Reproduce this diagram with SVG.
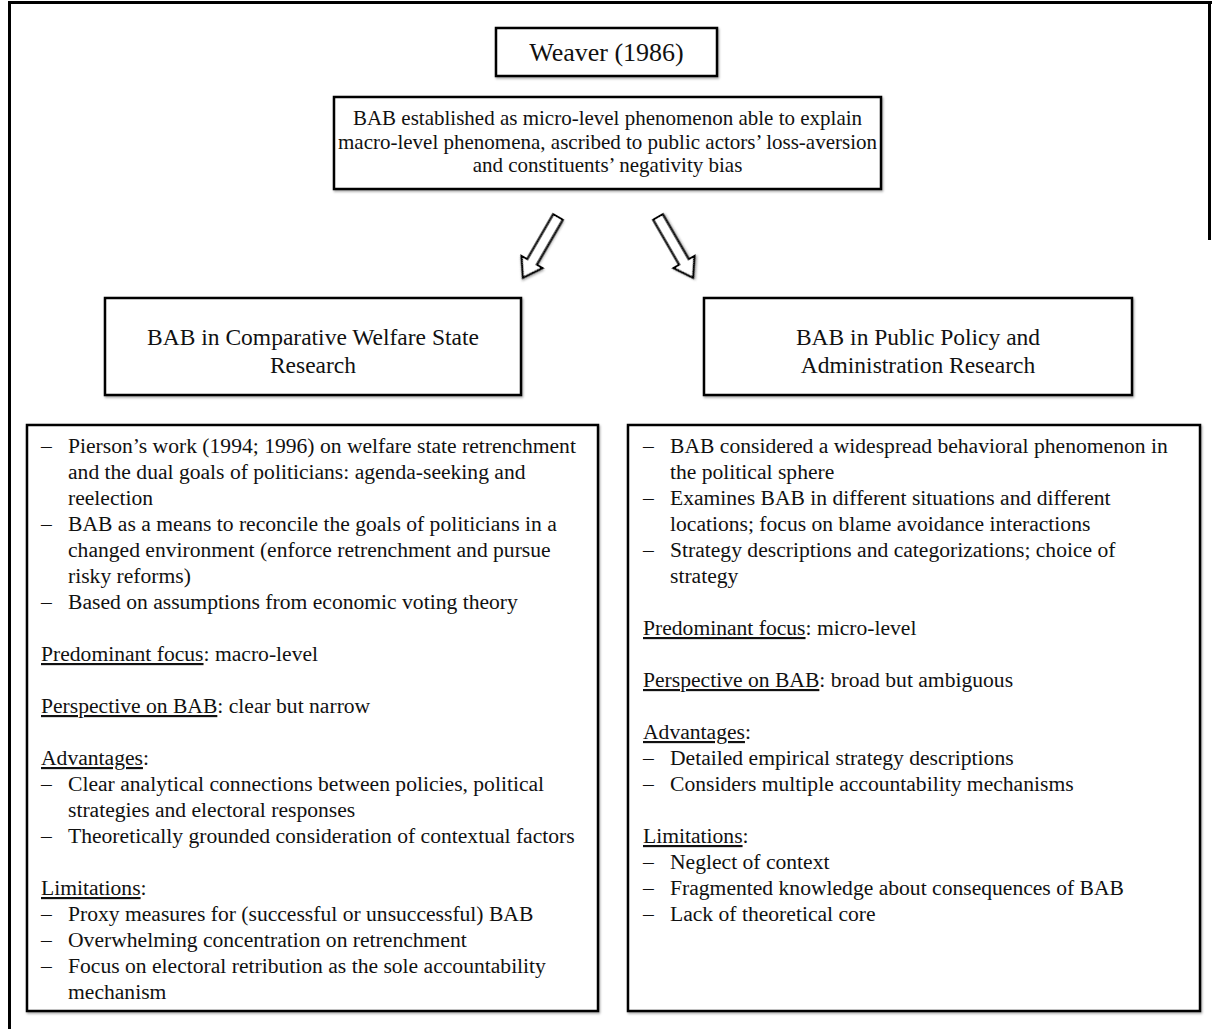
<svg xmlns="http://www.w3.org/2000/svg" width="1212" height="1029" viewBox="0 0 1212 1029">
<style>
  text { font-family: "Liberation Serif", "Times New Roman", serif; fill: #111; }
  .box { fill: #fff; stroke: #000; stroke-width: 2.5; }
  .frame { fill: none; stroke: #000; stroke-width: 3; }
  .title { font-size: 26px; text-anchor: middle; }
  .sub { font-size: 21px; text-anchor: middle; }
  .head { font-size: 23.5px; text-anchor: middle; }
  .body { font-size: 21.6px; }
  .u { text-decoration: underline; }
  .arrow { fill: #fff; stroke: #000; stroke-width: 2.2; stroke-linejoin: miter; }
</style>
<defs>
  <filter id="sh" x="-20%" y="-20%" width="140%" height="140%">
    <feDropShadow dx="1" dy="1.5" stdDeviation="1" flood-color="#000" flood-opacity="0.35"/>
  </filter>
  <path id="blockArrow" d="M-5.5,0 L5.5,0 L5.5,52 L12,52 L0,70 L-12,52 L-5.5,52 Z"/>
</defs>
<rect width="1212" height="1029" fill="#fff"/>

<g id="frame">
  <line class="frame" x1="8" y1="2.5" x2="1212" y2="2.5"/>
  <line class="frame" x1="9.5" y1="1" x2="9.5" y2="1029"/>
  <line class="frame" x1="1209.5" y1="1" x2="1209.5" y2="240"/>
</g>

<g id="weaver">
  <rect class="box" x="496" y="28" width="221" height="48" filter="url(#sh)"/>
  <text class="title" x="606.5" y="61">Weaver (1986)</text>
</g>

<g id="bab-established">
  <rect class="box" x="334" y="97" width="547" height="92" filter="url(#sh)"/>
  <text class="sub" x="607.5" y="125">BAB established as micro-level phenomenon able to explain</text>
  <text class="sub" x="607.5" y="148.5">macro-level phenomena, ascribed to public actors’ loss-aversion</text>
  <text class="sub" x="607.5" y="172">and constituents’ negativity bias</text>
</g>

<g id="connectors">
  <use href="#blockArrow" class="arrow" transform="translate(558,217) rotate(30)" filter="url(#sh)"/>
  <use href="#blockArrow" class="arrow" transform="translate(658,217) rotate(-30)" filter="url(#sh)"/>
</g>

<g id="header-welfare">
  <rect class="box" x="105" y="298" width="416" height="97" filter="url(#sh)"/>
  <text class="head" x="313" y="345">BAB in Comparative Welfare State</text>
  <text class="head" x="313" y="373">Research</text>
</g>

<g id="header-policy">
  <rect class="box" x="704" y="298" width="428" height="97" filter="url(#sh)"/>
  <text class="head" x="918" y="345">BAB in Public Policy and</text>
  <text class="head" x="918" y="373">Administration Research</text>
</g>

<g id="content-welfare">
  <rect class="box" x="27" y="425" width="571" height="586" filter="url(#sh)"/>
  <g class="body">
    <text x="41" y="453">–</text><text x="68" y="453">Pierson’s work (1994; 1996) on welfare state retrenchment</text>
    <text x="68" y="479">and the dual goals of politicians: agenda-seeking and</text>
    <text x="68" y="505">reelection</text>
    <text x="41" y="531">–</text><text x="68" y="531">BAB as a means to reconcile the goals of politicians in a</text>
    <text x="68" y="557">changed environment (enforce retrenchment and pursue</text>
    <text x="68" y="583">risky reforms)</text>
    <text x="41" y="609">–</text><text x="68" y="609">Based on assumptions from economic voting theory</text>
    <text x="41" y="661"><tspan class="u">Predominant focus</tspan>: macro-level</text>
    <text x="41" y="713"><tspan class="u">Perspective on BAB</tspan>: clear but narrow</text>
    <text x="41" y="765"><tspan class="u">Advantages</tspan>:</text>
    <text x="41" y="791">–</text><text x="68" y="791">Clear analytical connections between policies, political</text>
    <text x="68" y="817">strategies and electoral responses</text>
    <text x="41" y="843">–</text><text x="68" y="843">Theoretically grounded consideration of contextual factors</text>
    <text x="41" y="895"><tspan class="u">Limitations</tspan>:</text>
    <text x="41" y="921">–</text><text x="68" y="921">Proxy measures for (successful or unsuccessful) BAB</text>
    <text x="41" y="947">–</text><text x="68" y="947">Overwhelming concentration on retrenchment</text>
    <text x="41" y="973">–</text><text x="68" y="973">Focus on electoral retribution as the sole accountability</text>
    <text x="68" y="999">mechanism</text>
  </g>
</g>

<g id="content-policy">
  <rect class="box" x="628" y="425" width="572" height="586" filter="url(#sh)"/>
  <g class="body">
    <text x="643" y="453">–</text><text x="670" y="453">BAB considered a widespread behavioral phenomenon in</text>
    <text x="670" y="479">the political sphere</text>
    <text x="643" y="505">–</text><text x="670" y="505">Examines BAB in different situations and different</text>
    <text x="670" y="531">locations; focus on blame avoidance interactions</text>
    <text x="643" y="557">–</text><text x="670" y="557">Strategy descriptions and categorizations; choice of</text>
    <text x="670" y="583">strategy</text>
    <text x="643" y="635"><tspan class="u">Predominant focus</tspan>: micro-level</text>
    <text x="643" y="687"><tspan class="u">Perspective on BAB</tspan>: broad but ambiguous</text>
    <text x="643" y="739"><tspan class="u">Advantages</tspan>:</text>
    <text x="643" y="765">–</text><text x="670" y="765">Detailed empirical strategy descriptions</text>
    <text x="643" y="791">–</text><text x="670" y="791">Considers multiple accountability mechanisms</text>
    <text x="643" y="843"><tspan class="u">Limitations</tspan>:</text>
    <text x="643" y="869">–</text><text x="670" y="869">Neglect of context</text>
    <text x="643" y="895">–</text><text x="670" y="895">Fragmented knowledge about consequences of BAB</text>
    <text x="643" y="921">–</text><text x="670" y="921">Lack of theoretical core</text>
  </g>
</g>
</svg>
